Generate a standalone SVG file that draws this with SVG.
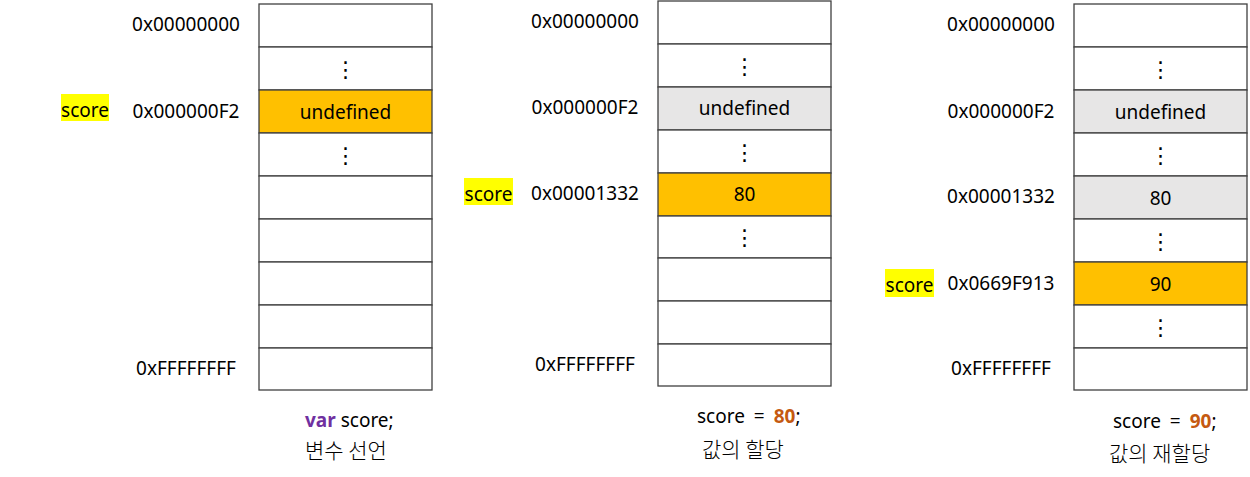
<svg xmlns="http://www.w3.org/2000/svg" width="1250" height="477" viewBox="0 0 1250 477">
<style>
  text { font-family: "Noto Sans", "Noto Sans CJK KR", sans-serif; font-size: 19px; fill: #000; }
  .addr { text-anchor: middle; }
  .cell { fill: #fff; stroke: #404040; stroke-width: 1.3; }
  .cur { fill: #FFC000; }
  .old { fill: #E7E6E6; }
  .val { text-anchor: middle; }
  .dots { text-anchor: middle; font-family: "DejaVu Sans", sans-serif; font-size: 22px; }
  .hl { fill: #FFFF00; }
  .kw { fill: #7030A0; font-weight: bold; }
  .num { fill: #C55A11; font-weight: bold; }
  .code { word-spacing: 4px; }
  .ko { font-family: "Noto Sans CJK KR", sans-serif; font-size: 21px; font-weight: 300; }
</style>

<g id="memory-declaration">
  <g id="m1-cells">
    <rect class="cell" x="259" y="4" width="173" height="43"/>
    <rect class="cell" x="259" y="47" width="173" height="43"/>
    <rect class="cell cur" x="259" y="90" width="173" height="43"/>
    <rect class="cell" x="259" y="133" width="173" height="43"/>
    <rect class="cell" x="259" y="176" width="173" height="43"/>
    <rect class="cell" x="259" y="219" width="173" height="43"/>
    <rect class="cell" x="259" y="262" width="173" height="43"/>
    <rect class="cell" x="259" y="305" width="173" height="43"/>
    <rect class="cell" x="259" y="348" width="173" height="42"/>
  </g>
  <text class="dots" x="345.5" y="77">⋮</text>
  <text class="val" x="345.5" y="119">undefined</text>
  <text class="dots" x="345.5" y="163">⋮</text>
  <text class="addr" x="186" y="31">0x00000000</text>
  <text class="addr" x="186" y="118">0x000000F2</text>
  <text class="addr" x="186" y="375">0xFFFFFFFF</text>
  <g id="m1-score">
    <rect class="hl" x="61" y="94" width="48" height="27"/>
    <text x="85" y="117" text-anchor="middle">score</text>
  </g>
  <text x="305" y="427"><tspan class="kw">var</tspan> score;</text>
  <text class="ko" x="305" y="458">변수 선언</text>
</g>

<g id="memory-assignment">
  <g id="m2-cells">
    <rect class="cell" x="658" y="1" width="173" height="43"/>
    <rect class="cell" x="658" y="44" width="173" height="43"/>
    <rect class="cell old" x="658" y="87" width="173" height="43"/>
    <rect class="cell" x="658" y="130" width="173" height="43"/>
    <rect class="cell cur" x="658" y="173" width="173" height="43"/>
    <rect class="cell" x="658" y="216" width="173" height="42"/>
    <rect class="cell" x="658" y="258" width="173" height="43"/>
    <rect class="cell" x="658" y="301" width="173" height="43"/>
    <rect class="cell" x="658" y="344" width="173" height="42"/>
  </g>
  <text class="dots" x="744.5" y="74">⋮</text>
  <text class="val" x="744.5" y="115">undefined</text>
  <text class="dots" x="744.5" y="160">⋮</text>
  <text class="val" x="744.5" y="201">80</text>
  <text class="dots" x="744.5" y="245">⋮</text>
  <text class="addr" x="585" y="28">0x00000000</text>
  <text class="addr" x="585" y="114">0x000000F2</text>
  <text class="addr" x="585" y="200">0x00001332</text>
  <text class="addr" x="585" y="371">0xFFFFFFFF</text>
  <g id="m2-score">
    <rect class="hl" x="464" y="178" width="49" height="27"/>
    <text x="488.5" y="201" text-anchor="middle">score</text>
  </g>
  <text class="code" x="697" y="423">score = <tspan class="num">80</tspan>;</text>
  <text class="ko" x="702" y="457">값의 할당</text>
</g>

<g id="memory-reassignment">
  <g id="m3-cells">
    <rect class="cell" x="1074" y="4" width="173" height="43"/>
    <rect class="cell" x="1074" y="47" width="173" height="43"/>
    <rect class="cell old" x="1074" y="90" width="173" height="43"/>
    <rect class="cell" x="1074" y="133" width="173" height="43"/>
    <rect class="cell old" x="1074" y="176" width="173" height="43"/>
    <rect class="cell" x="1074" y="219" width="173" height="43"/>
    <rect class="cell cur" x="1074" y="262" width="173" height="43"/>
    <rect class="cell" x="1074" y="305" width="173" height="43"/>
    <rect class="cell" x="1074" y="348" width="173" height="42"/>
  </g>
  <text class="dots" x="1160.5" y="77">⋮</text>
  <text class="val" x="1160.5" y="119">undefined</text>
  <text class="dots" x="1160.5" y="163">⋮</text>
  <text class="val" x="1160.5" y="205">80</text>
  <text class="dots" x="1160.5" y="249">⋮</text>
  <text class="val" x="1160.5" y="291">90</text>
  <text class="dots" x="1160.5" y="335">⋮</text>
  <text class="addr" x="1001" y="31">0x00000000</text>
  <text class="addr" x="1001" y="118">0x000000F2</text>
  <text class="addr" x="1001" y="203">0x00001332</text>
  <text class="addr" x="1001" y="290">0x0669F913</text>
  <text class="addr" x="1001" y="375">0xFFFFFFFF</text>
  <g id="m3-score">
    <rect class="hl" x="885" y="269" width="49" height="28"/>
    <text x="909.5" y="292" text-anchor="middle">score</text>
  </g>
  <text class="code" x="1113" y="428">score = <tspan class="num">90</tspan>;</text>
  <text class="ko" x="1109" y="461">값의 재할당</text>
</g>

<g id="connectors"></g>
</svg>
